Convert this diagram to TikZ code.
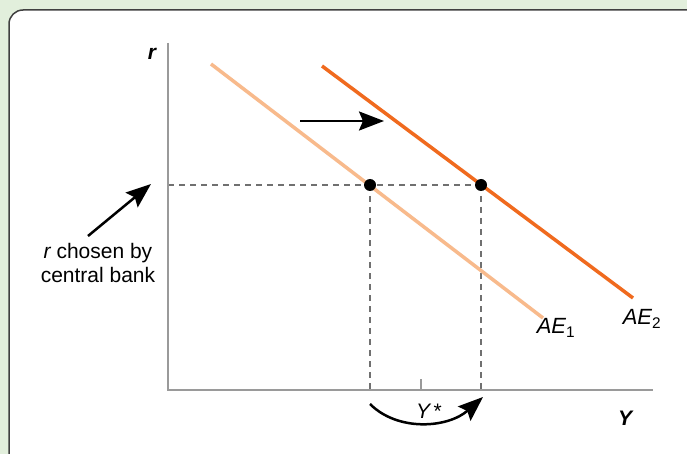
\documentclass[tikz,border=0pt]{standalone}
\usepackage{fontspec}
\setmainfont{Liberation Sans}
\usetikzlibrary{arrows.meta}
\definecolor{panelG}{HTML}{E2EFDC}
\definecolor{aeA}{HTML}{F8BA8C}
\definecolor{aeB}{HTML}{F06A1E}
\definecolor{axisG}{HTML}{9A9A9A}
\definecolor{dashG}{HTML}{707070}
\begin{document}
\begin{tikzpicture}[x=1pt,y=-1pt,>={Stealth[length=25pt,width=19pt,inset=4pt]},
  font=\fontsize{21}{24}\selectfont]
\useasboundingbox (0,0) rectangle (687,454);
\fill[panelG] (0,0) rectangle (687,454);
\begin{scope}
\clip (0,0) rectangle (687,454);
\draw[line width=1.5pt,draw=black!75,fill=white,rounded corners=14pt] (9,10) rectangle (720,490);
\end{scope}
% Eixos
\coordinate (O) at (168,390);
\coordinate (Ytop) at (168,43);
\coordinate (Xend) at (653,390);
\coordinate (E1) at (370,185);
\coordinate (E2) at (481,185);
\coordinate (Rax) at (168,185);
\coordinate (Y1) at (370,390);
\coordinate (Y2) at (481,390);
\draw[dashG,line width=1.4pt,dash pattern=on 6pt off 5pt] (Rax) -- (E2) (E1) -- (Y1) (E2) -- (Y2);
\draw[axisG,line width=2pt] (Ytop) -- (O) -- (Xend);
\draw[axisG,line width=2pt] (421,379) -- (421,390);
\node (rlab) at (152,54) {\bfseries\itshape r};
\node (ylab) at (625,418) {\bfseries\itshape Y};
\node (ystar) at (429,411) {\itshape Y\upshape\,*};
% Corbes AE
\draw[aeA,line width=3.5pt] (211,64) -- (543,318);
\draw[aeB,line width=3.5pt] (322,66) -- (633,298);
\node[font=\fontsize{22}{24}\selectfont] (ae1lab) at (556,328) {\itshape AE\upshape\textsubscript{1}};
\node[font=\fontsize{22}{24}\selectfont] (ae2lab) at (642,319) {\itshape AE\upshape\textsubscript{2}};
\fill (E1) circle (6pt);
\fill (E2) circle (6pt);
% Desplaçament
\coordinate (sh1) at (300,121);
\coordinate (sh2) at (384,121);
\draw[->,line width=2.5pt] (sh1) -- (sh2);
\coordinate (cv1) at (370,404);
\coordinate (cv2) at (483,397);
\draw[->,line width=2.5pt] (cv1) .. controls (398,432) and (448,428) .. (cv2);
% Tipus fixat pel banc central
\node[align=center] (cblab) at (98,263) {\itshape r\upshape{} chosen by\\central bank};
\coordinate (cb1) at (88,236);
\coordinate (cb2) at (151,184);
\draw[->,line width=2.5pt] (cb1) -- (cb2);
\end{tikzpicture}
\end{document}
